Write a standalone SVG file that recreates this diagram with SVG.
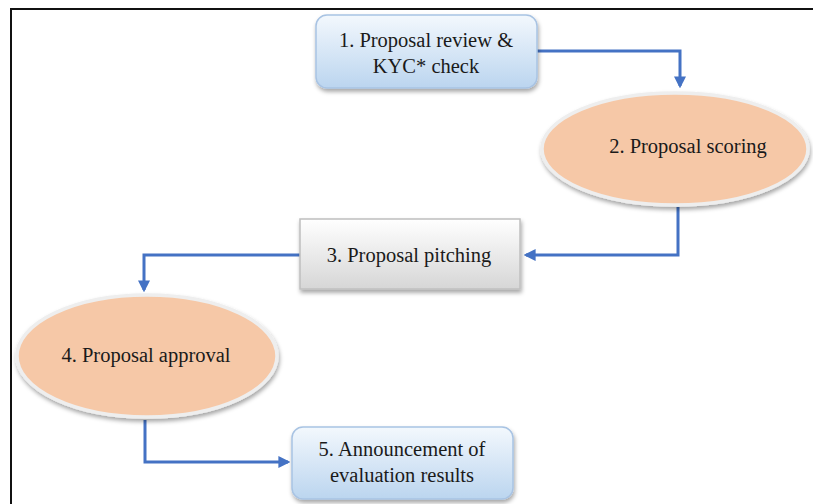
<svg xmlns="http://www.w3.org/2000/svg" width="813" height="504" viewBox="0 0 813 504">
  <defs>
    <linearGradient id="gBlue" x1="0" y1="0" x2="0" y2="1">
      <stop offset="0" stop-color="#F3F8FD"/>
      <stop offset="1" stop-color="#BBD5EF"/>
    </linearGradient>
    <linearGradient id="gGrey" x1="0" y1="0" x2="0" y2="1">
      <stop offset="0" stop-color="#FFFFFF"/>
      <stop offset="1" stop-color="#D6D6D6"/>
    </linearGradient>
    <filter id="sh" x="-10%" y="-10%" width="120%" height="130%">
      <feDropShadow dx="1" dy="3" stdDeviation="2" flood-color="#000" flood-opacity="0.35"/>
    </filter>
    <marker id="ah" markerWidth="4" markerHeight="4" refX="3.2" refY="2" orient="auto" markerUnits="strokeWidth">
      <path d="M0,0 L4,2 L0,4 Z" fill="#4472C4"/>
    </marker>
  </defs>
  <style>
    .t { font-family: "Liberation Serif", "Times New Roman", serif; font-size: 20.5px; fill: #1a1a1a; text-anchor: middle; }
    .blue { fill: url(#gBlue); stroke: #A8C3E3; stroke-width: 1.5; filter: url(#sh); }
    .grey { fill: url(#gGrey); stroke: #BFBFBF; stroke-width: 1.5; filter: url(#sh); }
    .ell { fill: #F6C8A7; stroke: #EEEEEE; stroke-width: 3.5; filter: url(#sh); }
    .c { fill: none; stroke: #4472C4; stroke-width: 3; marker-end: url(#ah); }
    .frame { fill: none; stroke: #111; stroke-width: 2; }
  </style>
  <rect width="813" height="504" fill="#FFFFFF"/>
  <path class="frame" d="M11,504 V9 H813"/>

  <g id="connectors">
    <path class="c" d="M537,51 H680 V86"/>
    <path class="c" d="M678,207 V255 H526"/>
    <path class="c" d="M300,255 H144 V290"/>
    <path class="c" d="M145,420 V462 H288"/>
  </g>

  <g id="node1">
    <rect class="blue" x="316" y="15" width="221" height="73" rx="11"/>
    <text class="t" x="426" y="47">1. Proposal review &amp;</text>
    <text class="t" x="426" y="73">KYC* check</text>
  </g>
  <g id="node2">
    <ellipse class="ell" cx="675" cy="149" rx="133" ry="56"/>
    <text class="t" x="688" y="153">2. Proposal scoring</text>
  </g>
  <g id="node3">
    <rect class="grey" x="300" y="219" width="220" height="70"/>
    <text class="t" x="409" y="262">3. Proposal pitching</text>
  </g>
  <g id="node4">
    <ellipse class="ell" cx="147" cy="356" rx="130" ry="61"/>
    <text class="t" x="146" y="362">4. Proposal approval</text>
  </g>
  <g id="node5">
    <rect class="blue" x="292" y="427" width="221" height="72" rx="11"/>
    <text class="t" x="402" y="456">5. Announcement of</text>
    <text class="t" x="402" y="482">evaluation results</text>
  </g>
</svg>
